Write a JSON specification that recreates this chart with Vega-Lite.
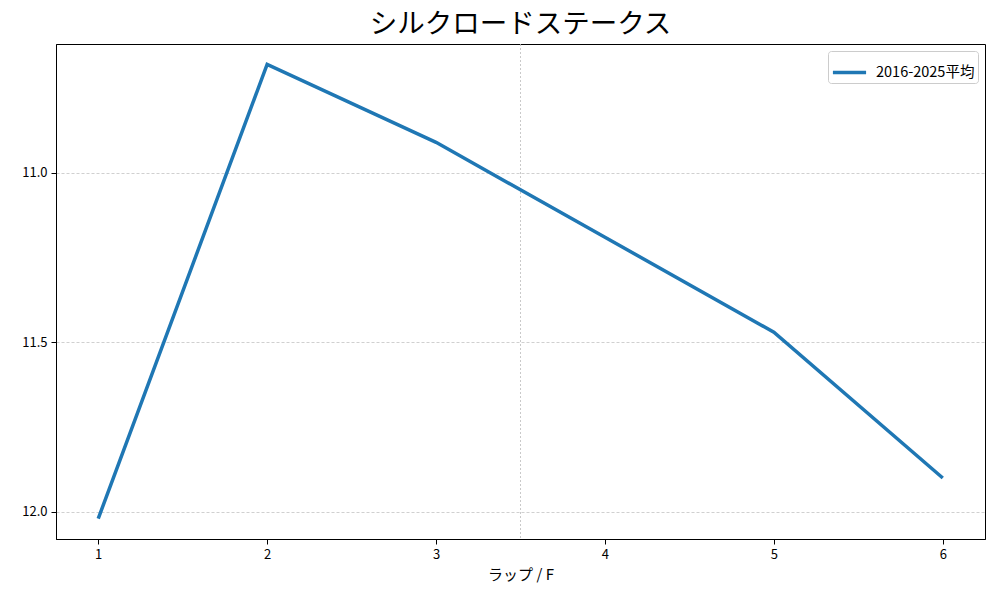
{
  "$schema": "https://vega.github.io/schema/vega-lite/v6.json",
  "width": 929,
  "height": 495,
  "autosize": {"type": "none"},
  "padding": {"left": 56, "top": 44, "right": 15, "bottom": 61},
  "background": "white",
  "config": {
    "font": "Noto Sans CJK JP",
    "view": {"stroke": "black", "strokeWidth": 1}
  },
  "title": {
    "text": "シルクロードステークス",
    "fontSize": 27.5,
    "fontWeight": "normal",
    "color": "black",
    "offset": 5,
    "font": "Noto Sans CJK JP"
  },
  "layer": [
    {
      "data": {"values": [{"x": 3.5}]},
      "mark": {"type": "rule", "color": "#bbbbbb", "strokeWidth": 0.8, "strokeDash": [2, 2]},
      "encoding": {
        "x": {"field": "x", "type": "quantitative", "scale": {"domain": [0.75, 6.25]}}
      }
    },
    {
      "data": {
        "values": [
          {"lap": 1, "time": 12.02, "series": "2016-2025平均"},
          {"lap": 2, "time": 10.68, "series": "2016-2025平均"},
          {"lap": 3, "time": 10.91, "series": "2016-2025平均"},
          {"lap": 4, "time": 11.19, "series": "2016-2025平均"},
          {"lap": 5, "time": 11.47, "series": "2016-2025平均"},
          {"lap": 6, "time": 11.9, "series": "2016-2025平均"}
        ]
      },
      "mark": {"type": "line", "strokeWidth": 3.5, "clip": true},
      "encoding": {
        "x": {
          "field": "lap",
          "type": "quantitative",
          "scale": {"domain": [0.75, 6.25], "nice": false, "zero": false},
          "axis": {
            "values": [1, 2, 3, 4, 5, 6],
            "format": "d",
            "title": "ラップ / F",
            "titleFontSize": 15,
            "titleFontWeight": "normal",
            "titleColor": "black",
            "titlePadding": 6,
            "labelFontSize": 13,
            "labelColor": "black",
            "labelPadding": 4,
            "tickSize": 5,
            "tickColor": "black",
            "domainColor": "black",
            "grid": false
          }
        },
        "y": {
          "field": "time",
          "type": "quantitative",
          "scale": {"domain": [10.62, 12.08], "nice": false, "zero": false, "reverse": true},
          "axis": {
            "values": [11.0, 11.5, 12.0],
            "format": ".1f",
            "title": null,
            "labelFontSize": 13,
            "labelColor": "black",
            "labelPadding": 4,
            "tickSize": 5,
            "tickColor": "black",
            "domainColor": "black",
            "grid": true,
            "gridColor": "#b0b0b0",
            "gridDash": [3, 2],
            "gridWidth": 0.6
          }
        },
        "color": {
          "field": "series",
          "type": "nominal",
          "scale": {"range": ["#1f77b4"]},
          "legend": {
            "title": null,
            "orient": "top-right",
            "offset": 7,
            "symbolType": "stroke",
            "symbolStrokeWidth": 3.5,
            "symbolSize": 1100,
            "labelFontSize": 14.5,
            "labelColor": "black",
            "labelOffset": 8,
            "fillColor": "white",
            "strokeColor": "#cccccc",
            "cornerRadius": 3,
            "padding": 3
          }
        }
      }
    }
  ]
}
